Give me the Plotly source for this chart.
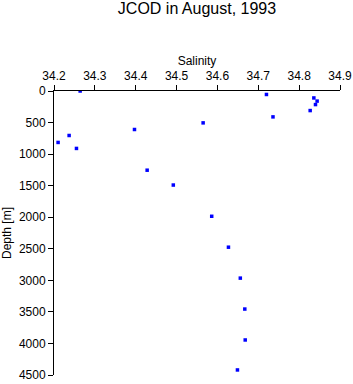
import plotly.graph_objects as go

depth_m = [0, 55, 110, 160, 215, 310, 410, 505, 610, 705, 815, 910, 1255, 1490, 1985, 2475, 2965, 3455, 3945, 4420]
salinity = [34.264, 34.720, 34.836, 34.844, 34.840, 34.827, 34.736, 34.565, 34.397, 34.237, 34.210, 34.255,
            34.428, 34.492, 34.586, 34.627, 34.656, 34.667, 34.668, 34.649]

x_ticks = [34.2, 34.3, 34.4, 34.5, 34.6, 34.7, 34.8, 34.9]
y_ticks = [0, 500, 1000, 1500, 2000, 2500, 3000, 3500, 4000, 4500]

FONT = "Liberation Sans, Arial, Helvetica, sans-serif"

fig = go.Figure(go.Scatter(
    x=salinity, y=depth_m, mode="markers",
    marker=dict(symbol="square", size=3.5, color="#0000ff", line=dict(width=0)),
    showlegend=False,
))

fig.update_layout(
    width=353, height=384, autosize=False,
    margin=dict(l=54, r=13, t=91, b=9, pad=0),
    paper_bgcolor="white", plot_bgcolor="white",
    font=dict(family=FONT, size=12, color="black"),
    title=dict(text="JCOD in August, 1993", x=197/353, xanchor="center",
               y=0.994, yanchor="top", font=dict(size=16, color="black")),
    xaxis=dict(
        side="top", range=[34.2, 34.9], tickvals=x_ticks,
        ticktext=[f"{v:.1f}" for v in x_ticks],
        ticks="outside", ticklen=5, tickwidth=1, tickcolor="black",
        showline=True, linecolor="black", linewidth=1,
        showgrid=False, zeroline=False, automargin=False,
        title=dict(text="Salinity", standoff=1, font=dict(size=12)),
        tickfont=dict(size=12),
    ),
    yaxis=dict(
        range=[4500, 0], tickvals=y_ticks,
        ticks="outside", ticklen=5, tickwidth=1, tickcolor="black",
        showline=True, linecolor="black", linewidth=1,
        showgrid=False, zeroline=False, automargin=False,
        title=dict(text="Depth [m]", standoff=4, font=dict(size=12)),
        tickfont=dict(size=12),
    ),
)

fig.write_html("out.html", config={"displayModeBar": False},
               post_script="document.body.style.margin='0px';document.body.style.overflow='hidden';")
